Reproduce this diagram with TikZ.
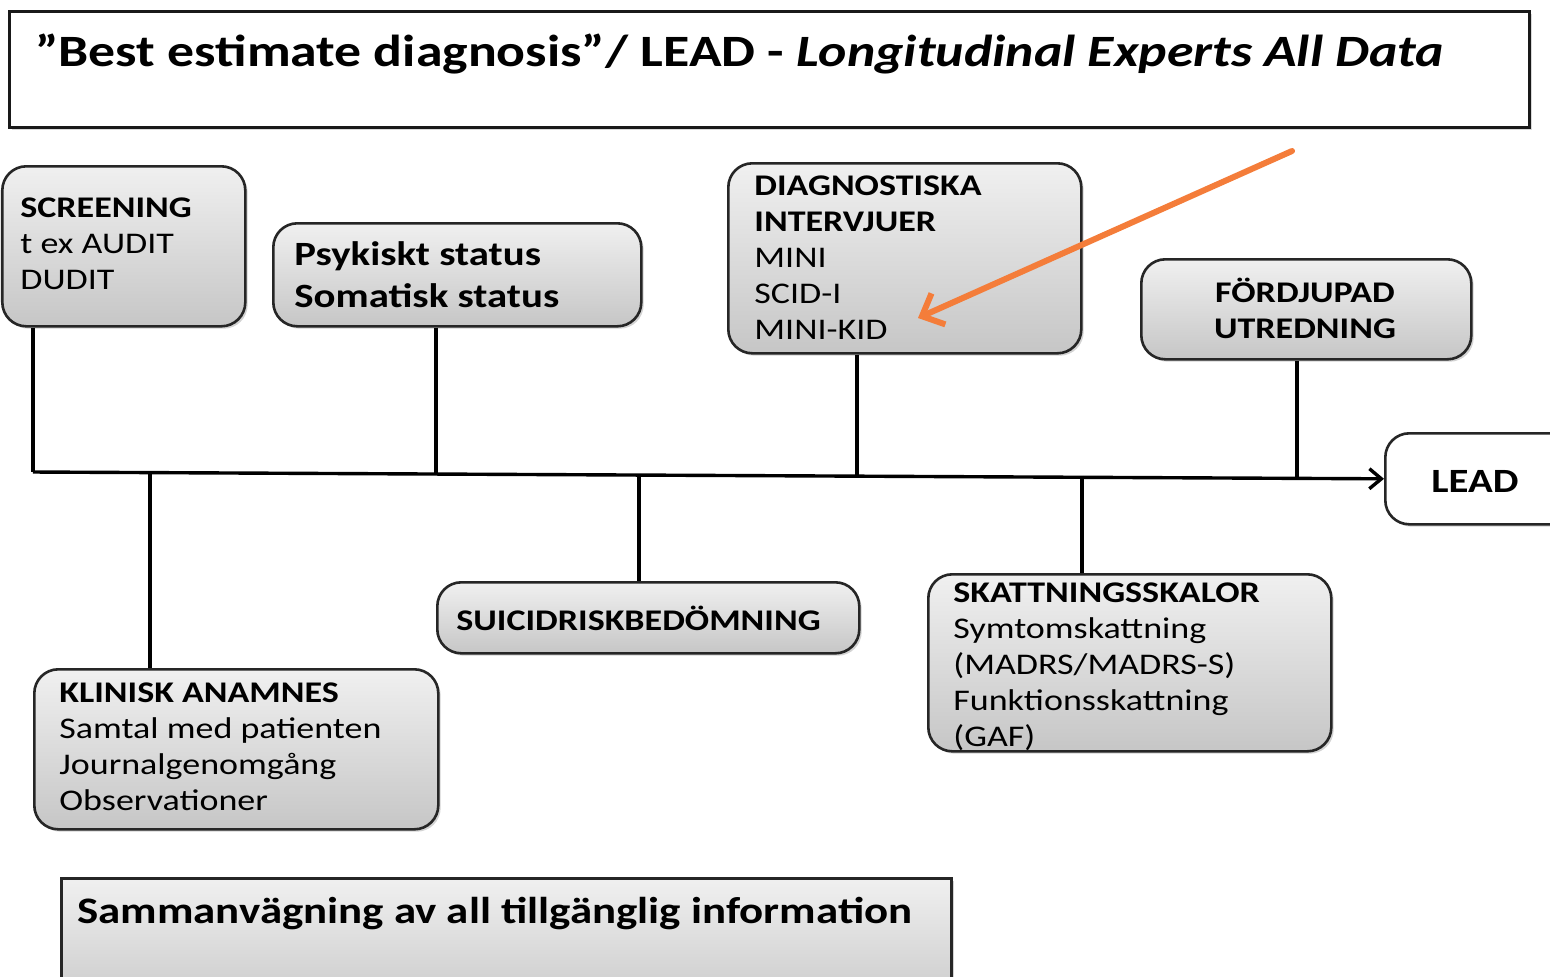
\documentclass[tikz,border=0pt]{standalone}
\usepackage{fontspec}
\setmainfont[FakeStretch=1.2]{Carlito}
\usetikzlibrary{shadows,arrows.meta}
\definecolor{gtop}{RGB}{240,240,240}
\definecolor{gbot}{RGB}{198,198,198}
\definecolor{orng}{RGB}{244,125,58}
\tikzset{
  gbox/.style={draw=black!85, line width=1.3pt, rounded corners=12pt, top color=gtop, bottom color=gbot,
    drop shadow={shadow xshift=1.2pt, shadow yshift=-1.2pt, opacity=0.35}, inner sep=0pt, anchor=north west},
  txt/.style={anchor=north west, align=left, inner sep=0pt, font=\fontsize{15}{18}\selectfont},
  conn/.style={line width=1.7pt, draw=black},
  hint/.style={line width=3pt, draw=orng, line cap=round, -{Straight Barb[length=9pt,width=17pt]}},
}
\begin{document}
\begin{tikzpicture}[x=0.5pt,y=-0.5pt]
\useasboundingbox (0,0) rectangle (1550,976);
\clip (0,0) rectangle (1550,976);
% title
\node[draw=black!90, line width=1.6pt, fill=white, inner sep=0pt, anchor=north west, minimum width=760pt, minimum height=58pt,
  drop shadow={shadow xshift=1pt, shadow yshift=-1pt, opacity=0.3}] (title) at (8,10) {};
\node[anchor=base west, inner sep=0pt, font=\fontsize{22.4}{27}\selectfont\bfseries] (titletxt) at (35,66)
  {”Best estimate diagnosis”/ LEAD - \textit{Longitudinal Experts All Data}};
% boxes
\node[gbox, minimum width=121.5pt, minimum height=80pt] (scr) at (1,165) {};
\node[txt] (scrt) at (20,197) {\textbf{SCREENING}\\t ex AUDIT\\DUDIT};
\node[gbox, minimum width=184pt, minimum height=51.5pt] (psy) at (272,222) {};
\node[txt, font=\fontsize{17}{21}\selectfont\bfseries] (psyt) at (294,241) {Psykiskt status\\Somatisk status};
\node[gbox, minimum width=176.5pt, minimum height=95pt] (diag) at (727,162) {};
\node[txt] (diagt) at (754,175) {\textbf{DIAGNOSTISKA}\\\textbf{INTERVJUER}\\MINI\\SCID-I\\MINI-KID};
\node[gbox, minimum width=165pt, minimum height=50pt] (ford) at (1140,258) {};
\node[txt, anchor=center, align=center, font=\fontsize{15}{18}\selectfont\bfseries] (fordt) at (1305,308) {FÖRDJUPAD\\UTREDNING};
\node[gbox, top color=white, bottom color=white, minimum width=100pt, minimum height=45.5pt] (lead) at (1384,432) {};
\node[inner sep=0pt, anchor=base west, font=\fontsize{17}{21}\selectfont\bfseries] (leadt) at (1431,492) {LEAD};
\node[gbox, minimum width=211pt, minimum height=35.5pt] (suic) at (436,581) {};
\node[txt, anchor=base west, font=\fontsize{15}{18}\selectfont\bfseries] (suict) at (456,630) {SUICIDRISKBEDÖMNING};
\node[gbox, minimum width=201.5pt, minimum height=88.5pt] (skat) at (927,573) {};
\node[txt] (skatt) at (953,582) {\textbf{SKATTNINGSSKALOR}\\Symtomskattning\\(MADRS/MADRS-S)\\Funktionsskattning\\(GAF)};
\node[gbox, minimum width=202pt, minimum height=80pt] (klin) at (33,668) {};
\node[txt] (klint) at (59,682) {\textbf{KLINISK ANAMNES}\\Samtal med patienten\\Journalgenomgång\\Observationer};
\node[gbox, rounded corners=0pt, minimum width=445pt, minimum height=70pt] (samm) at (60,877) {};
\node[anchor=base west, inner sep=0pt, font=\fontsize{18.7}{23}\selectfont\bfseries] (sammt) at (77,923) {Sammanvägning av all tillgänglig information};
% bus
\coordinate (bscr) at (33,472);
\coordinate (bkl) at (150,472.5);
\coordinate (bpsy) at (436,473.5);
\coordinate (bsu) at (639,474.2);
\coordinate (bdi) at (857,475);
\coordinate (bsk) at (1082,475.9);
\coordinate (bfo) at (1297,476.7);
\draw[conn, -{Straight Barb[length=6pt,width=10pt]}] (bscr) -- (lead.west);
\draw[conn] (scr.south -| bscr) -- (bscr);
\draw[conn] (psy.south -| bpsy) -- (bpsy);
\draw[conn] (diag.south -| bdi) -- (bdi);
\draw[conn] (ford.south -| bfo) -- (bfo);
\draw[conn] (bkl) -- (klin.north -| bkl);
\draw[conn] (bsu) -- (suic.north -| bsu);
\draw[conn] (bsk) -- (skat.north -| bsk);
% orange pointer
\coordinate (oa) at (1292,151);
\coordinate (ob) at (918,318);
\draw[hint] (oa) -- (ob);
\end{tikzpicture}
\end{document}
